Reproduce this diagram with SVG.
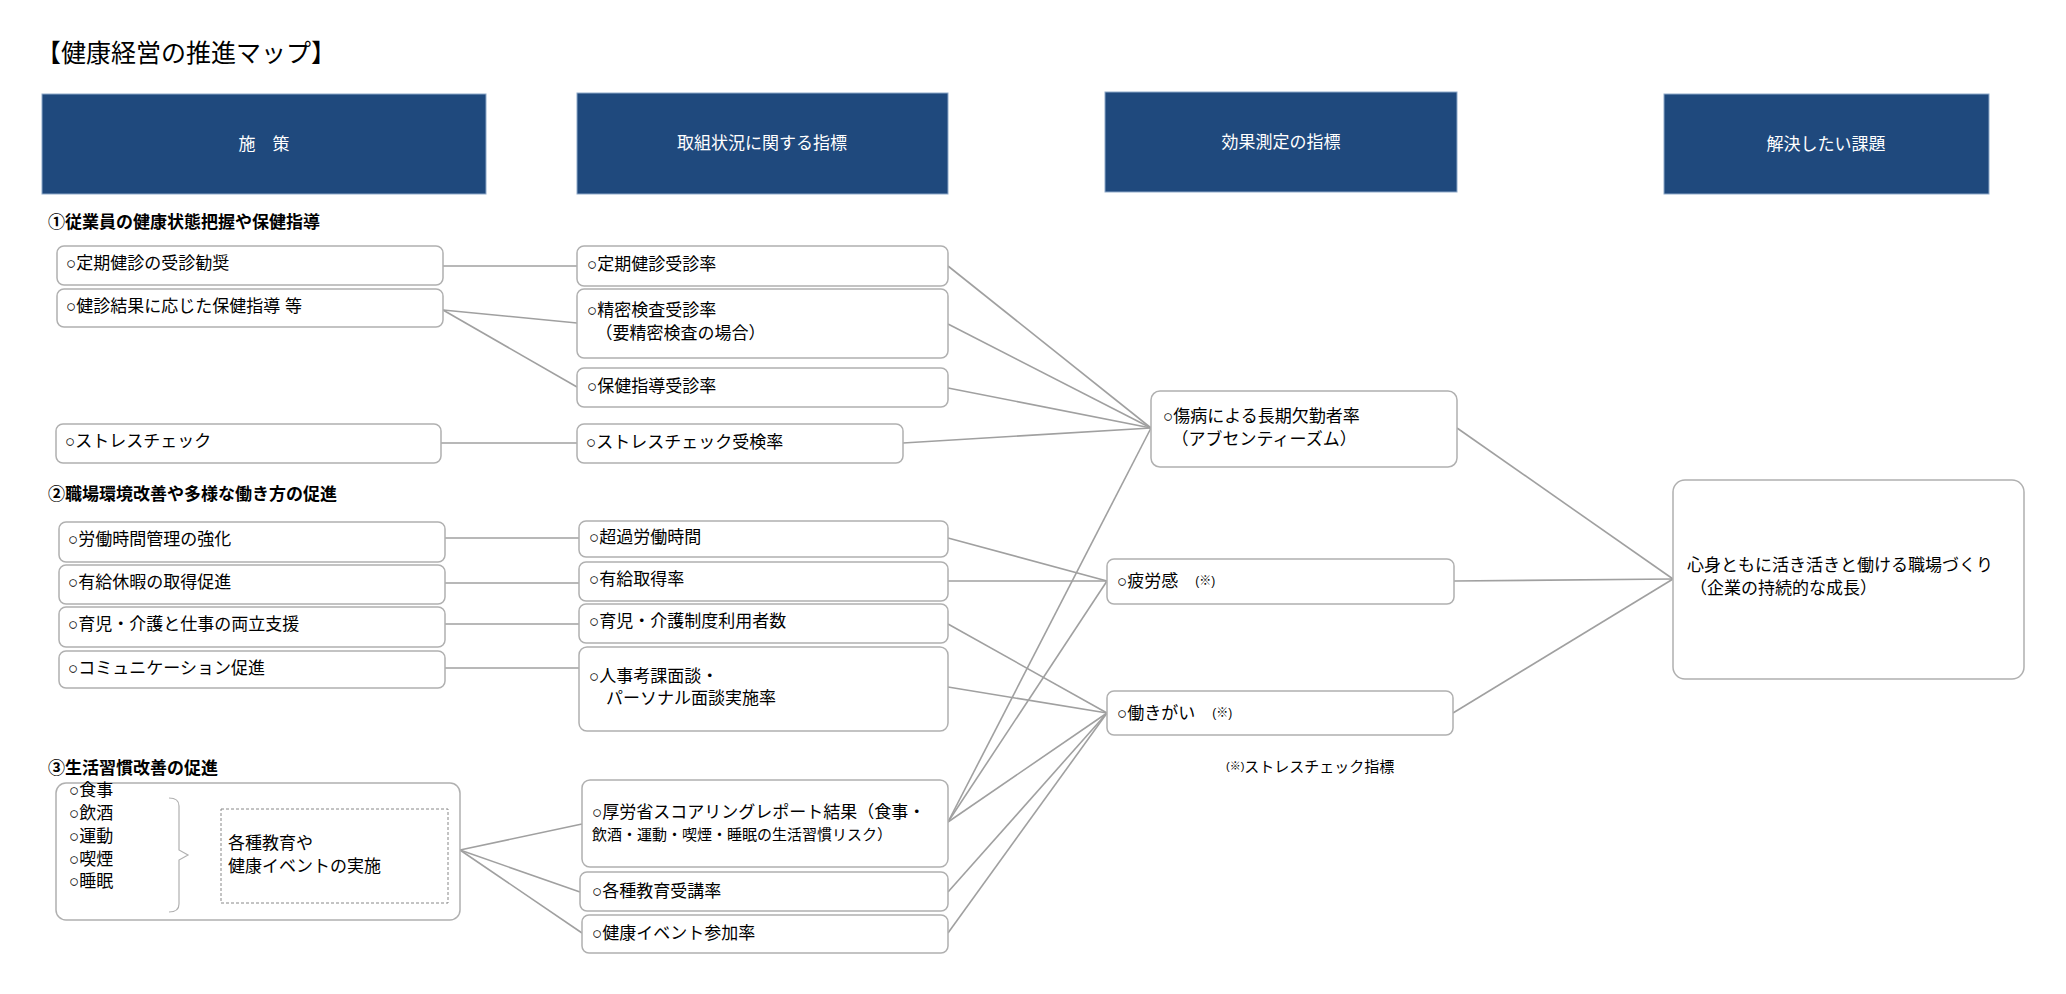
<svg xmlns="http://www.w3.org/2000/svg" width="2066" height="994" viewBox="0 0 2066 994">
<style>
text{font-family:"Liberation Sans","Noto Sans CJK JP",sans-serif;font-size:17px;fill:#000;dominant-baseline:central}
.h rect{fill:#1f497d;stroke:#8ea9c9;stroke-width:1}
.h text{fill:#fff;text-anchor:middle}
.n{fill:#fff;stroke:#b0b0b0;stroke-width:1.5}
.sec{font-weight:bold}
#connectors line{stroke:#a0a0a0;stroke-width:1.6}
</style>
<rect width="2066" height="994" fill="#fff"/>
<text x="36" y="53" style="font-size:25px">【健康経営の推進マップ】</text>
<g class="h" id="h1"><rect x="42" y="94" width="444" height="100"/><text x="264" y="144">施　策</text></g>
<g class="h" id="h2"><rect x="577" y="93" width="371" height="101"/><text x="762" y="143">取組状況に関する指標</text></g>
<g class="h" id="h3"><rect x="1105" y="92" width="352" height="100"/><text x="1281" y="142">効果測定の指標</text></g>
<g class="h" id="h4"><rect x="1664" y="94" width="325" height="100"/><text x="1826" y="144">解決したい課題</text></g>
<text class="sec" x="48" y="222">①従業員の健康状態把握や保健指導</text>
<text class="sec" x="48" y="494">②職場環境改善や多様な働き方の促進</text>
<text class="sec" x="48" y="768">③生活習慣改善の促進</text>
<g id="connectors">
<line x1="443" y1="266" x2="577" y2="266"/>
<line x1="443" y1="310" x2="577" y2="323"/>
<line x1="443" y1="310" x2="577" y2="387"/>
<line x1="441" y1="443" x2="577" y2="443"/>
<line x1="445" y1="538" x2="579" y2="538"/>
<line x1="445" y1="583" x2="579" y2="583"/>
<line x1="445" y1="624" x2="579" y2="624"/>
<line x1="445" y1="668" x2="579" y2="668"/>
<line x1="460" y1="850" x2="582" y2="824"/>
<line x1="460" y1="850" x2="580" y2="892"/>
<line x1="460" y1="850" x2="582" y2="933"/>
<line x1="948" y1="266" x2="1151" y2="428"/>
<line x1="948" y1="324" x2="1151" y2="428"/>
<line x1="948" y1="388" x2="1151" y2="428"/>
<line x1="903" y1="443" x2="1151" y2="428"/>
<line x1="948" y1="538" x2="1107" y2="581"/>
<line x1="948" y1="581" x2="1107" y2="581"/>
<line x1="948" y1="624" x2="1107" y2="713"/>
<line x1="948" y1="687" x2="1107" y2="713"/>
<line x1="948" y1="822" x2="1151" y2="428"/>
<line x1="948" y1="822" x2="1107" y2="581"/>
<line x1="948" y1="822" x2="1107" y2="713"/>
<line x1="948" y1="892" x2="1107" y2="713"/>
<line x1="948" y1="933" x2="1107" y2="713"/>
<line x1="1457" y1="428" x2="1673" y2="579"/>
<line x1="1454" y1="581" x2="1673" y2="579"/>
<line x1="1453" y1="713" x2="1673" y2="579"/>
</g>
<g id="n1"><rect class="n" x="57" y="246" width="386" height="39" rx="7"/><text x="66" y="263">○定期健診の受診勧奨</text></g>
<g id="n2"><rect class="n" x="57" y="289" width="386" height="38" rx="7"/><text x="66" y="306">○健診結果に応じた保健指導 等</text></g>
<g id="n3"><rect class="n" x="56" y="424" width="385" height="39" rx="7"/><text x="65" y="441">○ストレスチェック</text></g>
<g id="n4"><rect class="n" x="59" y="522" width="386" height="40" rx="7"/><text x="68" y="539">○労働時間管理の強化</text></g>
<g id="n5"><rect class="n" x="59" y="565" width="386" height="39" rx="7"/><text x="68" y="582">○有給休暇の取得促進</text></g>
<g id="n6"><rect class="n" x="59" y="607" width="386" height="40" rx="7"/><text x="68" y="624">○育児・介護と仕事の両立支援</text></g>
<g id="n7"><rect class="n" x="59" y="651" width="386" height="37" rx="7"/><text x="68" y="668">○コミュニケーション促進</text></g>
<g id="n8"><rect class="n" x="56" y="783" width="404" height="137" rx="10"/>
<text x="69" y="790">○食事</text><text x="69" y="813">○飲酒</text><text x="69" y="836">○運動</text><text x="69" y="859">○喫煙</text><text x="69" y="881">○睡眠</text>
<path d="M169 798 Q179 798 179 806 L179 850 L188 855 L179 860 L179 904 Q179 912 169 912" fill="none" stroke="#b0b0b0" stroke-width="1.2"/>
<rect x="221" y="809" width="227" height="94" fill="none" stroke="#888" stroke-width="1" stroke-dasharray="3,2"/>
<text x="228" y="843">各種教育や</text><text x="228" y="866">健康イベントの実施</text></g>
<g id="m1"><rect class="n" x="577" y="246" width="371" height="40" rx="7"/><text x="587" y="264">○定期健診受診率</text></g>
<g id="m2"><rect class="n" x="577" y="289" width="371" height="69" rx="7"/><text x="587" y="310">○精密検査受診率</text><text x="587" y="333">　（要精密検査の場合）</text></g>
<g id="m3"><rect class="n" x="577" y="368" width="371" height="39" rx="7"/><text x="587" y="386">○保健指導受診率</text></g>
<g id="m4"><rect class="n" x="577" y="424" width="326" height="39" rx="7"/><text x="586" y="442">○ストレスチェック受検率</text></g>
<g id="m5"><rect class="n" x="579" y="521" width="369" height="36" rx="7"/><text x="589" y="537">○超過労働時間</text></g>
<g id="m6"><rect class="n" x="579" y="562" width="369" height="39" rx="7"/><text x="589" y="579">○有給取得率</text></g>
<g id="m7"><rect class="n" x="579" y="604" width="369" height="39" rx="7"/><text x="589" y="621">○育児・介護制度利用者数</text></g>
<g id="m8"><rect class="n" x="579" y="647" width="369" height="84" rx="8"/><text x="589" y="676">○人事考課面談・</text><text x="589" y="698">　パーソナル面談実施率</text></g>
<g id="m9"><rect class="n" x="582" y="780" width="366" height="87" rx="8"/><text x="592" y="812">○厚労省スコアリングレポート結果（食事・</text><text x="592" y="834" style="font-size:15px">飲酒・運動・喫煙・睡眠の生活習慣リスク）</text></g>
<g id="m10"><rect class="n" x="580" y="872" width="368" height="39" rx="7"/><text x="592" y="891">○各種教育受講率</text></g>
<g id="m11"><rect class="n" x="582" y="915" width="366" height="38" rx="7"/><text x="592" y="933">○健康イベント参加率</text></g>
<g id="e1"><rect class="n" x="1151" y="391" width="306" height="76" rx="9"/><text x="1163" y="416">○傷病による長期欠勤者率</text><text x="1163" y="439">　（アブセンティーズム）</text></g>
<g id="e2"><rect class="n" x="1107" y="559" width="347" height="45" rx="7"/><text x="1117" y="581">○疲労感　<tspan style="font-size:12px">(※)</tspan></text></g>
<g id="e3"><rect class="n" x="1107" y="691" width="346" height="44" rx="7"/><text x="1117" y="713">○働きがい　<tspan style="font-size:12px">(※)</tspan></text></g>
<text x="1226" y="766" style="font-size:15px"><tspan style="font-size:11px">(※)</tspan>ストレスチェック指標</text>
<g id="g1"><rect class="n" x="1673" y="480" width="351" height="199" rx="12"/><text x="1687" y="565">心身ともに活き活きと働ける職場づくり</text><text x="1690" y="588">（企業の持続的な成長）</text></g>
</svg>
